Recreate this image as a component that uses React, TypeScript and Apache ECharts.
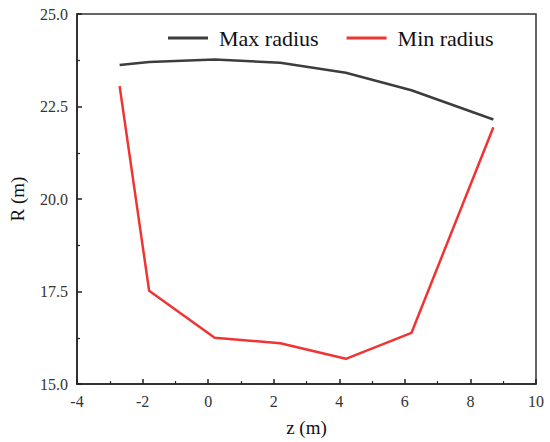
import React, { useEffect, useRef } from "react";
import * as echarts from "echarts";

const zValues = [-2.7, -1.8, 0.2, 2.2, 4.2, 6.2, 8.7];
const maxRadius = [23.62, 23.7, 23.77, 23.68, 23.41, 22.94, 22.15];
const minRadius = [23.05, 17.52, 16.25, 16.1, 15.68, 16.38, 21.94];
const seriesNames = ["Max radius", "Min radius"];

export default function App() {
  const ref = useRef<HTMLDivElement>(null);
  useEffect(() => {
    if (!ref.current) return;
    const chart = echarts.init(ref.current, null, { renderer: "svg" });
    const serif = "'Liberation Serif', 'DejaVu Serif', serif";
    const axisCommon = {
      axisLine: { show: true, onZero: false, lineStyle: { color: "#222", width: 1.5 } },
      axisTick: { show: true, inside: true, length: 5, lineStyle: { color: "#222", width: 1.5 } },
      minorTick: { show: true, splitNumber: 2, length: 3, lineStyle: { color: "#222", width: 1.2 } },
      splitLine: { show: false },
      axisLabel: { color: "#333", fontFamily: serif, fontSize: 16 },
      nameTextStyle: { color: "#111", fontFamily: serif, fontSize: 19 },
    };
    chart.setOption({
      animation: false,
      backgroundColor: "#fff",
      grid: {
        left: 72,
        right: 14,
        top: 14,
        bottom: 54,
        show: true,
        borderColor: "#333",
        borderWidth: 1.5,
        containLabel: false,
      },
      legend: {
        data: seriesNames,
        icon: "rect",
        left: 163,
        top: 22,
        itemWidth: 40,
        itemHeight: 3,
        itemGap: 28,
        textStyle: { fontFamily: serif, fontSize: 22, color: "#111", padding: [0, 0, 0, 6] },
      },
      xAxis: {
        type: "value",
        min: -4,
        max: 10,
        interval: 2,
        name: "z (m)",
        nameLocation: "middle",
        nameGap: 34,
        ...axisCommon,
        axisLabel: { ...axisCommon.axisLabel, margin: 9 },
      },
      yAxis: {
        type: "value",
        min: 15,
        max: 25,
        interval: 2.5,
        name: "R (m)",
        nameLocation: "middle",
        nameGap: 50,
        ...axisCommon,
        axisLabel: {
          ...axisCommon.axisLabel,
          margin: 9,
          formatter: (v: number) => v.toFixed(1),
        },
      },
      series: [
        {
          name: seriesNames[0],
          type: "line",
          data: zValues.map((z, i) => [z, maxRadius[i]]),
          symbol: "none",
          lineStyle: { color: "#3d3d3d", width: 2.5 },
          itemStyle: { color: "#3d3d3d" },
        },
        {
          name: seriesNames[1],
          type: "line",
          data: zValues.map((z, i) => [z, minRadius[i]]),
          symbol: "none",
          lineStyle: { color: "#f03434", width: 2.5 },
          itemStyle: { color: "#f03434" },
        },
      ],
    });
    return () => chart.dispose();
  }, []);
  return (
    <div
      ref={ref}
      style={{ position: "absolute", left: 0, top: 0, width: 550, height: 442 }}
    />
  );
}
